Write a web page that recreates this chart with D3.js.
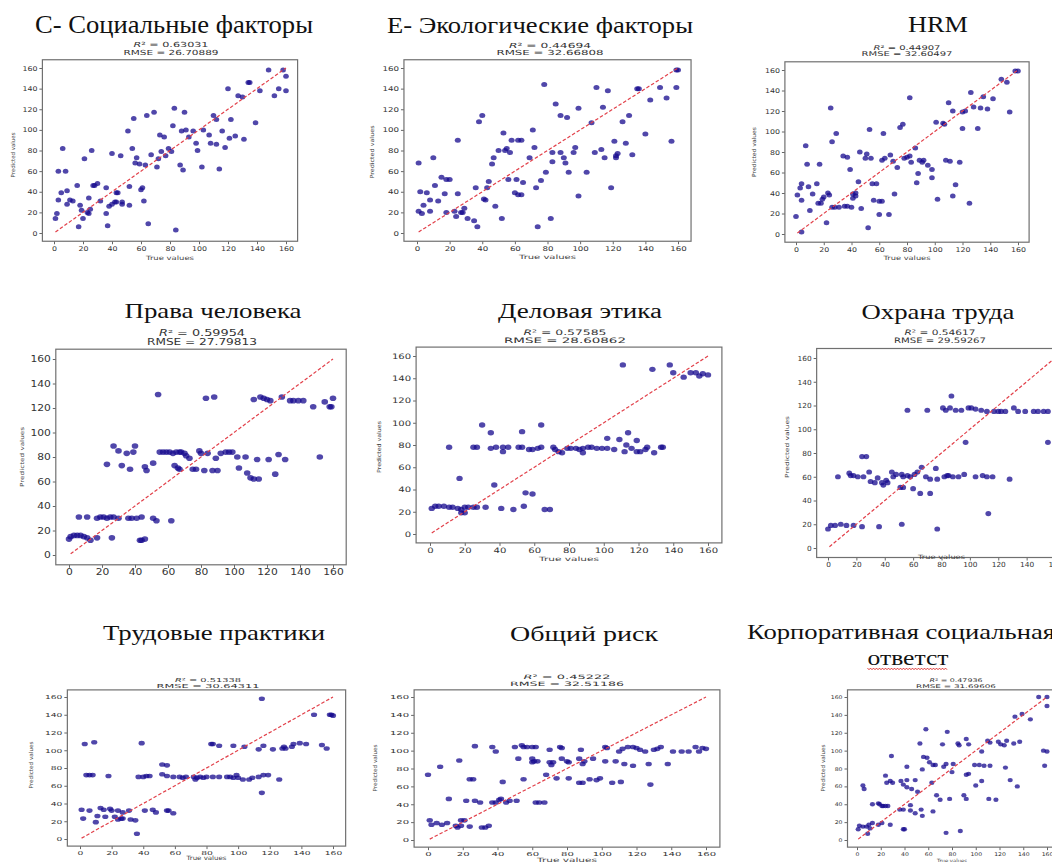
<!DOCTYPE html>
<html>
<head>
<meta charset="utf-8">
<script src="https://cdn.jsdelivr.net/npm/d3@7"></script>
<style>
  body { margin: 0; background: #fff; }
  svg { display: block; }
</style>
</head>
<body>
<div id="chart"></div>
<script>
// panel titles (one entry per line)
var titles = [
  ["С- Социальные факторы"],
  ["Е- Экологические факторы"],
  ["HRM"],
  ["Права человека"],
  ["Деловая этика"],
  ["Охрана труда"],
  ["Трудовые практики"],
  ["Общий риск"],
  ["Корпоративная социальная", "ответст"]
];
var r2Scores = ["0.63031", "0.44694", "0.44907", "0.59954", "0.57585", "0.54617", "0.51338", "0.45222", "0.47936"];
var rmseScores = ["26.70889", "32.66808", "32.60497", "27.79813", "28.60862", "29.59267", "30.64311", "32.51186", "31.69606"];
var tickValues = [0, 20, 40, 60, 80, 100, 120, 140, 160];
var diagEnds = [1, 160];

// [true value, predicted value]
var socialPoints = [[158,158],[148,158],[160,152],[134,146],[135,146],[120,140],[142,138],[155,140],[160,138],[152,133],[127,133],[130,132],[83,121],[90,117],[69,117],[64,114],[110,114],[112,110],[122,110],[55,111],[139,107],[82,104],[51,99],[88,99],[91,100],[96,99],[103,100],[116,99],[73,95],[76,93],[107,95],[93,93],[121,92],[125,94],[131,91],[108,87],[112,86],[98,87],[118,83],[6,82],[54,82],[79,82],[81,79],[74,79],[99,80],[26,80],[40,77],[46,75],[57,73],[67,76],[72,72],[77,75],[21,72],[56,68],[59,67],[63,66],[87,66],[102,64],[71,64],[114,62],[3,60],[8,60],[89,61],[30,48],[28,46],[27,46],[16,46],[36,44],[52,45],[61,44],[60,42],[5,39],[9,41],[43,39],[44,39],[3,32],[11,32],[13,31],[9,28],[24,34],[32,31],[42,30],[43,30],[47,30],[40,28],[38,26],[47,28],[52,27],[62,31],[18,27],[19,22],[25,23],[23,20],[24,19],[36,19],[2,19],[20,14],[1,14],[17,6],[37,7],[65,9],[84,3]];
var ecoPoints = [[160,158],[159,158],[78,144],[110,141],[117,138],[135,140],[136,140],[149,141],[159,141],[143,129],[153,131],[85,125],[114,122],[99,121],[130,114],[88,114],[92,112],[40,114],[38,108],[71,100],[107,107],[126,108],[53,97],[25,90],[58,90],[62,90],[64,90],[121,89],[156,89],[140,96],[50,80],[54,80],[55,82],[57,78],[72,83],[97,83],[83,78],[88,78],[109,78],[96,78],[113,81],[122,75],[123,77],[132,76],[128,87],[115,73],[122,73],[90,73],[69,73],[10,73],[47,73],[1,68],[46,67],[83,69],[91,68],[79,59],[93,59],[104,59],[15,54],[18,52],[20,52],[11,46],[56,52],[61,52],[76,51],[44,50],[65,49],[2,40],[6,39],[17,38],[25,38],[36,44],[43,44],[73,44],[119,44],[60,39],[62,37],[64,37],[99,36],[8,32],[13,31],[41,33],[42,32],[4,27],[48,26],[29,24],[1,21],[3,19],[8,21],[18,20],[23,21],[27,20],[28,20],[24,16],[31,14],[35,12],[52,14],[82,14],[37,6],[74,6]];
var hrmPoints = [[158,159],[160,159],[148,151],[152,148],[126,138],[142,132],[135,134],[82,133],[110,128],[113,120],[120,119],[122,120],[128,124],[133,123],[138,122],[154,119],[25,123],[77,107],[75,104],[106,108],[107,107],[101,109],[120,103],[131,103],[53,102],[63,98],[29,98],[26,90],[7,86],[86,84],[80,75],[82,76],[78,74],[73,65],[68,77],[62,72],[64,74],[34,76],[37,75],[46,80],[51,78],[50,74],[54,74],[70,71],[83,70],[89,72],[91,70],[92,72],[95,67],[98,63],[98,55],[88,59],[87,50],[108,72],[111,71],[118,70],[115,48],[39,63],[8,68],[17,68],[4,49],[3,45],[9,46],[15,49],[45,51],[55,49],[58,49],[56,33],[60,32],[62,32],[71,39],[113,37],[102,34],[125,30],[1,38],[4,33],[12,39],[23,40],[24,38],[41,39],[43,37],[43,40],[41,35],[16,30],[18,30],[19,34],[20,36],[10,23],[26,26],[28,26],[31,26],[35,27],[37,27],[40,26],[47,25],[60,19],[67,19],[0,17],[22,11],[4,2],[52,6]];
var rightsPoints = [[54,131],[83,128],[88,129],[112,127],[116,129],[118,128],[120,127],[122,126],[129,129],[134,126],[136,126],[139,126],[142,126],[148,121],[155,125],[158,121],[159,121],[160,128],[27,89],[30,85],[40,89],[39,84],[35,83],[23,74],[32,73],[37,70],[46,72],[47,69],[51,75],[55,84],[57,84],[59,84],[61,84],[63,83],[65,84],[67,84],[68,84],[64,73],[66,71],[67,70],[70,83],[71,81],[73,79],[75,70],[77,70],[79,85],[80,83],[84,83],[82,69],[87,69],[90,69],[89,79],[92,83],[95,84],[97,84],[99,84],[102,80],[107,80],[103,71],[108,67],[110,63],[112,62],[115,62],[114,78],[121,78],[125,66],[127,82],[131,78],[152,80],[6,31],[11,31],[17,30],[19,31],[21,31],[23,30],[25,31],[27,31],[30,30],[36,30],[38,30],[41,30],[44,31],[51,30],[53,28],[62,28],[0,13],[1,15],[3,16],[5,16],[7,16],[9,15],[11,14],[13,12],[17,14],[26,14],[43,12],[44,12],[46,13]];
var ethicsPoints = [[111,152],[128,148],[138,152],[140,145],[146,141],[150,145],[153,145],[155,142],[157,144],[160,143],[30,98],[64,98],[35,91],[53,92],[114,91],[102,86],[109,85],[119,84],[11,78],[25,78],[27,78],[35,77],[38,78],[42,78],[45,78],[51,78],[53,78],[57,76],[59,76],[62,77],[64,78],[42,74],[71,78],[72,76],[74,74],[76,73],[79,77],[81,77],[84,77],[86,76],[88,77],[91,78],[93,78],[96,77],[99,77],[102,77],[106,76],[88,73],[112,74],[113,80],[116,77],[119,74],[121,74],[124,76],[125,78],[133,78],[134,78],[129,73],[17,50],[37,44],[55,37],[59,36],[1,23],[3,25],[5,25],[8,25],[11,24],[13,24],[16,23],[18,22],[20,24],[22,24],[25,24],[27,24],[18,19],[20,19],[32,24],[41,23],[48,22],[54,25],[66,22],[69,22]];
var safetyPoints = [[87,128],[56,116],[70,116],[81,118],[83,116],[86,118],[90,116],[94,116],[99,118],[101,118],[104,117],[108,116],[112,115],[117,115],[120,115],[122,115],[125,115],[131,118],[134,115],[139,115],[145,115],[148,115],[152,115],[155,115],[160,115],[97,89],[155,89],[24,77],[27,77],[7,60],[15,63],[16,61],[18,61],[21,60],[25,60],[29,64],[30,56],[33,55],[35,59],[38,55],[39,53],[41,57],[42,55],[45,64],[46,60],[48,62],[52,62],[53,60],[56,61],[58,60],[61,62],[63,64],[66,68],[69,60],[72,58],[77,58],[82,60],[84,61],[76,67],[85,61],[88,60],[92,60],[96,62],[104,60],[109,61],[112,60],[116,60],[128,58],[51,51],[53,51],[60,50],[65,46],[72,46],[113,29],[0,16],[2,19],[5,19],[9,20],[13,19],[18,19],[24,18],[36,18],[52,20],[77,16]];
var practicesPoints = [[115,158],[148,140],[158,140],[159,140],[160,139],[3,107],[9,109],[39,108],[83,107],[84,107],[88,105],[97,105],[104,104],[113,101],[116,105],[122,101],[128,102],[129,104],[130,102],[134,104],[135,107],[139,108],[143,107],[153,106],[156,102],[52,84],[55,83],[4,72],[6,72],[8,72],[18,71],[37,70],[40,70],[42,71],[44,71],[52,73],[55,71],[59,70],[63,70],[65,69],[67,70],[72,70],[74,69],[76,70],[78,69],[80,70],[84,70],[88,70],[93,70],[95,70],[97,69],[73,67],[99,72],[100,69],[103,67],[107,67],[109,69],[113,70],[116,72],[119,72],[126,67],[115,52],[1,33],[6,32],[13,35],[15,33],[19,34],[20,32],[24,32],[27,30],[31,32],[41,32],[46,33],[48,30],[55,32],[56,32],[59,29],[2,23],[10,19],[11,26],[16,25],[22,25],[24,22],[26,23],[27,23],[32,22],[35,21],[36,6]];
var riskPoints = [[0,73],[1,22],[7,82],[18,89],[27,105],[37,104],[39,99],[50,104],[54,106],[55,104],[57,104],[60,104],[62,104],[52,91],[60,91],[61,88],[60,87],[63,88],[76,104],[77,103],[70,101],[88,101],[77,91],[80,88],[81,87],[87,91],[89,85],[95,91],[90,88],[70,87],[72,87],[71,84],[102,88],[108,88],[102,104],[103,103],[110,99],[112,102],[115,104],[118,104],[120,103],[122,101],[125,99],[113,85],[118,83],[127,85],[130,101],[132,102],[134,104],[138,85],[141,99],[146,99],[150,99],[154,104],[156,99],[158,103],[160,102],[68,73],[74,69],[81,69],[87,64],[89,64],[93,68],[97,67],[99,69],[106,64],[111,65],[128,62],[43,65],[55,68],[24,68],[26,68],[12,46],[22,44],[27,44],[30,42],[37,42],[39,42],[41,45],[42,46],[45,42],[47,44],[51,44],[62,42],[64,42],[67,42],[2,17],[5,19],[8,17],[11,19],[16,16],[17,14],[19,16],[19,22],[21,22],[24,15],[31,14],[33,14],[35,16]];
var csrPoints = [[153,160],[160,160],[160,150],[133,138],[139,141],[146,135],[58,124],[76,121],[110,111],[112,109],[119,110],[121,107],[124,106],[126,111],[132,108],[137,110],[92,113],[94,107],[85,108],[86,106],[72,107],[53,108],[105,99],[157,100],[160,99],[29,94],[56,93],[59,92],[61,87],[64,84],[66,84],[42,82],[75,85],[81,85],[73,82],[55,79],[99,84],[103,84],[107,83],[112,83],[125,81],[158,83],[80,76],[92,73],[94,74],[24,72],[28,66],[30,64],[37,66],[39,62],[25,64],[42,67],[49,67],[42,59],[46,57],[51,54],[63,64],[100,61],[105,66],[129,67],[135,60],[5,61],[6,57],[13,40],[18,41],[19,40],[21,38],[22,38],[24,38],[26,38],[36,34],[39,34],[45,39],[45,33],[49,30],[54,34],[55,27],[64,32],[67,50],[70,45],[78,46],[90,50],[92,46],[111,46],[117,45],[1,12],[2,16],[5,15],[8,15],[10,17],[11,13],[13,19],[9,7],[18,17],[21,19],[28,17],[39,12],[40,12],[75,8],[87,10]];

var allPoints = [socialPoints, ecoPoints, hrmPoints, rightsPoints, ethicsPoints,
                 safetyPoints, practicesPoints, riskPoints, csrPoints];

// where each pasted plot sits in the collage (pixels)
var layout = [
  {x0:54, x160:286, y0:233, y160:68, title:[{x:174,y:33,w:278}], tfs:25,
   sx:171, s1:44, s2:52, sfs:7, w1:75, w2:95, kfs:6.5, dw:5, ylx:13, yly:155, yl:45, xly:258, xl:48, rx:2.8, ry:2.5},
  {x0:417, x160:678, y0:233, y160:68, title:[{x:540,y:33,w:306}], tfs:23,
   sx:550, s1:45, s2:52, sfs:7, w1:82, w2:107, kfs:6.5, dw:5.5, ylx:372, yly:152, yl:53, xly:257, xl:57, rx:3, ry:2.5},
  {x0:796, x160:1018, y0:234, y160:70, title:[{x:938,y:32,w:60}], tfs:24,
   sx:907, s1:48, s2:54, sfs:6.5, w1:67, w2:91, kfs:6.5, dw:5, ylx:754, yly:152, yl:50, xly:258, xl:47, rx:2.8, ry:2.5},
  {x0:69, x160:333, y0:555, y160:359, title:[{x:213,y:318,w:177}], tfs:21,
   sx:202, s1:333, s2:342, sfs:8, w1:86, w2:110, kfs:8, dw:6.8, ylx:22, yly:457, yl:60, xly:585, xl:60, rx:3.3, ry:2.8, clipBottom:581},
  {x0:430, x160:708, y0:534, y160:356, title:[{x:580,y:318,w:164}], tfs:20,
   sx:565, s1:332, s2:340, sfs:7.5, w1:83, w2:122, kfs:7.5, dw:6.4, ylx:379, yly:447, yl:52, xly:559, xl:60, rx:3.2, ry:2.7},
  {x0:828, x160:1055, y0:548, y160:358, title:[{x:938,y:319,w:153}], tfs:21,
   sx:940, s1:332, s2:340, sfs:7.5, w1:71, w2:92, kfs:7, dw:4.7, ylx:787, yly:447, yl:62, xly:557, xl:47, rx:2.9, ry:2.6},
  {x0:80, x160:333, y0:839, y160:697, title:[{x:214,y:640,w:222}], tfs:22,
   sx:208, s1:680, s2:686, sfs:5.5, w1:66, w2:103, kfs:5.5, dw:5.8, ylx:31, yly:765, yl:47, xly:858, xl:40, rx:3.1, ry:2.3},
  {x0:428, x160:706, y0:840, y160:697, title:[{x:584,y:641,w:148}], tfs:22,
   sx:567, s1:677, s2:684, sfs:6, w1:87, w2:114, kfs:5.5, dw:6.4, ylx:375, yly:768, yl:47, xly:860, xl:60, rx:3.2, ry:2.3},
  {x0:857, x160:1047, y0:840, y160:697, title:[{x:747,y:639,w:308,anchor:"start"},{x:908,y:665,w:81}], tfs:21,
   sx:956, s1:680, s2:686, sfs:5, w1:53, w2:80, kfs:5, dw:3.9, ylx:823, yly:768, yl:47, xly:861, xl:30, rx:2.6, ry:2.2, squiggle:true}
];

var svg = d3.select("#chart").append("svg")
  .attr("width", 1052)
  .attr("height", 862)
  .style("background", "#fff");

var defs = svg.append("defs");

layout.forEach(function(L, i) {
  var g = svg.append("g");
  if (L.clipBottom) {
    defs.append("clipPath").attr("id", "clip" + i)
      .append("rect").attr("x", 0).attr("y", 0).attr("width", 1052).attr("height", L.clipBottom);
    g.attr("clip-path", "url(#clip" + i + ")");
  }

  var x = d3.scaleLinear().domain([0, 160]).range([L.x0, L.x160]);
  var y = d3.scaleLinear().domain([0, 160]).range([L.y0, L.y160]);
  var left = x(-8), right = x(168), top = y(168), bottom = y(-8);

  // title lines
  titles[i].forEach(function(line, k) {
    var t = L.title[k];
    g.append("text")
      .attr("x", t.x)
      .attr("y", t.y)
      .attr("text-anchor", t.anchor || "middle")
      .attr("font-family", "'Liberation Serif', 'DejaVu Serif', serif")
      .attr("font-size", L.tfs)
      .attr("fill", "#111")
      .attr("textLength", t.w)
      .attr("lengthAdjust", "spacingAndGlyphs")
      .text(line);
  });

  // spell-check squiggle under the cut-off word
  if (L.squiggle) {
    var t2 = L.title[1];
    var wave = d3.range(t2.x - t2.w / 2, t2.x + t2.w / 2, 1.5).map(function(px, j) {
      return [px, t2.y + 3.5 + (j % 2 ? 1.2 : -0.4)];
    });
    g.append("path")
      .attr("d", d3.line()(wave))
      .attr("fill", "none")
      .attr("stroke", "#d22")
      .attr("stroke-width", 0.9);
  }

  // R^2 and RMSE lines
  var st1 = g.append("text")
    .attr("x", L.sx)
    .attr("y", L.s1 + L.sfs * 0.36)
    .attr("text-anchor", "middle")
    .attr("font-family", "'DejaVu Sans', sans-serif")
    .attr("font-size", L.sfs)
    .attr("fill", "#333")
    .attr("textLength", L.w1)
    .attr("lengthAdjust", "spacingAndGlyphs");
  st1.append("tspan").attr("font-style", "italic").text("R");
  st1.append("tspan").text("² = " + r2Scores[i]);

  g.append("text")
    .attr("x", L.sx)
    .attr("y", L.s2 + L.sfs * 0.36)
    .attr("text-anchor", "middle")
    .attr("font-family", "'DejaVu Sans', sans-serif")
    .attr("font-size", L.sfs)
    .attr("fill", "#333")
    .attr("textLength", L.w2)
    .attr("lengthAdjust", "spacingAndGlyphs")
    .text("RMSE = " + rmseScores[i]);

  // axes
  var xAxis = g.append("g")
    .attr("transform", "translate(0," + bottom + ")")
    .call(d3.axisBottom(x).tickValues(tickValues).tickSize(3).tickPadding(2));
  var yAxis = g.append("g")
    .attr("transform", "translate(" + left + ",0)")
    .call(d3.axisLeft(y).tickValues(tickValues).tickSize(3).tickPadding(2));

  [xAxis, yAxis].forEach(function(ax) {
    ax.select(".domain").remove();
    ax.selectAll(".tick line").attr("stroke", "#666");
    ax.selectAll(".tick text")
      .attr("font-family", "'DejaVu Sans', sans-serif")
      .attr("font-size", L.kfs)
      .attr("fill", "#333")
      .attr("textLength", function(d) { return String(d).length * L.dw; })
      .attr("lengthAdjust", "spacingAndGlyphs");
  });

  // frame
  g.append("rect")
    .attr("x", left)
    .attr("y", top)
    .attr("width", right - left)
    .attr("height", bottom - top)
    .attr("fill", "none")
    .attr("stroke", "#707070")
    .attr("stroke-width", 1.2);

  // axis labels
  g.append("text")
    .attr("transform", "translate(" + L.ylx + "," + L.yly + ") rotate(-90)")
    .attr("text-anchor", "middle")
    .attr("dy", "0.35em")
    .attr("font-family", "'DejaVu Sans', sans-serif")
    .attr("font-size", 5.5)
    .attr("fill", "#444")
    .attr("textLength", L.yl)
    .attr("lengthAdjust", "spacingAndGlyphs")
    .text("Predicted values");

  g.append("text")
    .attr("x", (left + right) / 2)
    .attr("y", L.xly)
    .attr("text-anchor", "middle")
    .attr("dy", "0.35em")
    .attr("font-family", "'DejaVu Sans', sans-serif")
    .attr("font-size", 6)
    .attr("fill", "#444")
    .attr("textLength", L.xl)
    .attr("lengthAdjust", "spacingAndGlyphs")
    .text("True values");

  // points
  g.append("g")
    .selectAll("ellipse")
    .data(allPoints[i])
    .join("ellipse")
    .attr("cx", function(d) { return x(d[0]); })
    .attr("cy", function(d) { return y(d[1]); })
    .attr("rx", L.rx)
    .attr("ry", L.ry)
    .attr("fill", "#16098e")
    .attr("fill-opacity", 0.75);

  // ideal fit line
  g.append("line")
    .attr("x1", x(diagEnds[0]))
    .attr("y1", y(diagEnds[0]))
    .attr("x2", x(diagEnds[1]))
    .attr("y2", y(diagEnds[1]))
    .attr("stroke", "#e2404a")
    .attr("stroke-width", 1.2)
    .attr("stroke-dasharray", "3.5,2");
});
</script>
</body>
</html>
